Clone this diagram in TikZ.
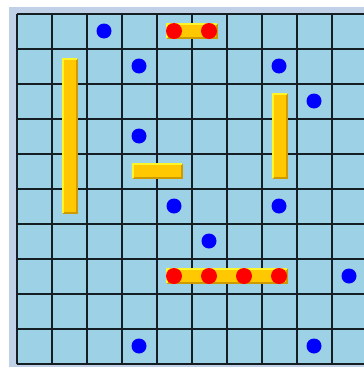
\documentclass[tikz,border=0pt]{standalone}
\definecolor{framebg}{RGB}{192,208,230}
\definecolor{gridbg}{RGB}{157,209,230}
\definecolor{gridln}{RGB}{20,30,35}
\definecolor{bargold}{RGB}{255,200,0}
\definecolor{barlight}{RGB}{255,245,40}
\definecolor{bardark}{RGB}{205,155,0}
\tikzset{
  gridline/.style={draw=gridln, line width=1.6pt},
  bluedot/.style={fill={rgb,255:red,0;green,0;blue,255}},
  reddot/.style={fill={rgb,255:red,255;green,0;blue,0}},
}
\newcommand\goldbar[4]{%
  \fill[bargold] (#1,#2) rectangle (#3,#4);
  \draw[bardark, line width=1.2pt] (#1,#4) -- (#3,#4) -- (#3,#2);
  \draw[barlight, line width=1.2pt] (#1,#4) -- (#1,#2) -- (#3,#2);
}
\newcommand\bdot[2]{\fill[bluedot] ({34+35*#1},{31+35*#2}) circle (7.5);}
\newcommand\rdot[2]{\fill[reddot] ({34+35*#1},{31+35*#2}) circle (8);}
\begin{document}
\begin{tikzpicture}[x=1pt,y=-1pt]
\useasboundingbox (0,0) rectangle (364,367);
\clip (0,0) rectangle (364,367);
\fill[white] (0,0) rectangle (364,367);
\fill[framebg] (9,7) rectangle (370,370);
\fill[gridbg] (17,14) rectangle (367,364);
\foreach \i in {0,...,10} {
  \draw[gridline] ({17+35*\i},14) -- ({17+35*\i},364);
  \draw[gridline] (17,{14+35*\i}) -- (367,{14+35*\i});
}
% bars
\goldbar{63}{59}{77}{213}
\goldbar{133}{164}{182}{178}
\goldbar{273}{94}{287}{178}
\goldbar{167}{24}{217}{38}
\goldbar{167}{269}{287}{283}
% blue dots
\bdot{2}{0}
\bdot{3}{1}
\bdot{7}{1}
\bdot{8}{2}
\bdot{3}{3}
\bdot{4}{5}
\bdot{7}{5}
\bdot{5}{6}
\bdot{9}{7}
\bdot{3}{9}
\bdot{8}{9}
% red dots
\rdot{4}{0}
\rdot{5}{0}
\rdot{4}{7}
\rdot{5}{7}
\rdot{6}{7}
\rdot{7}{7}
\end{tikzpicture}
\end{document}
